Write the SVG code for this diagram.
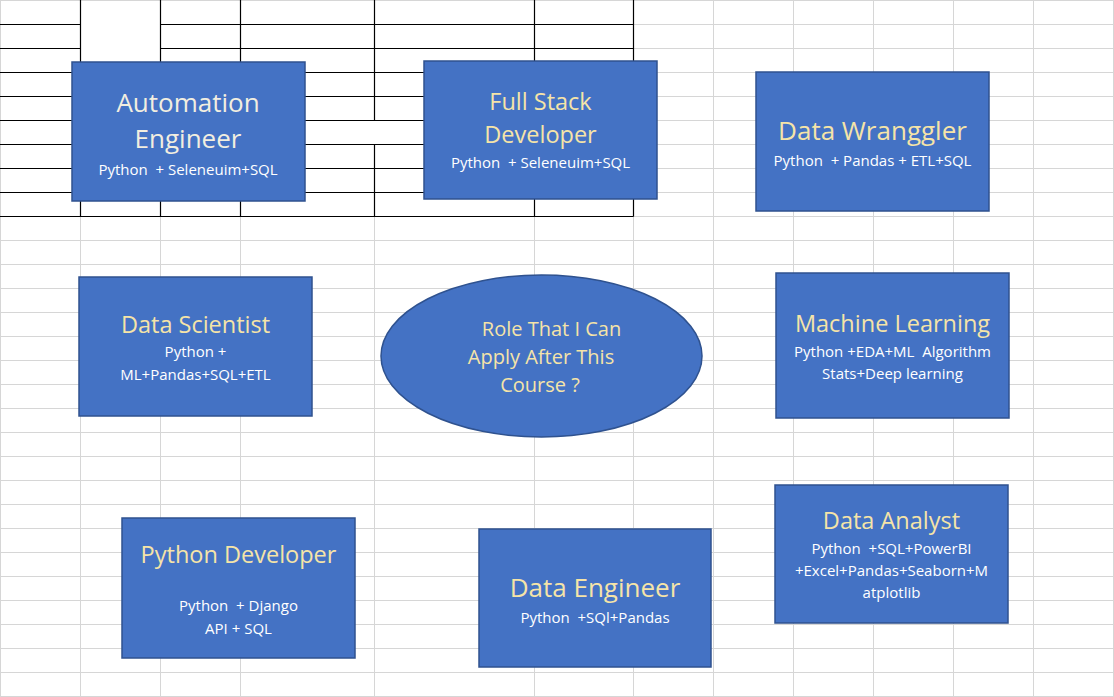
<svg xmlns="http://www.w3.org/2000/svg" width="1114" height="697" viewBox="0 0 1114 697">
<style>
.grid{stroke:#d6d6d6;stroke-width:1;fill:none}
.border{stroke:#000;stroke-width:1.2;fill:none}
.box{fill:#4472c4;stroke:#2f528f;stroke-width:1.5}
.title{font-family:"Open Sans","Noto Sans",sans-serif;font-size:23.5px;fill:#f5e4a8;text-anchor:middle}
.title.big{font-size:26px}
.title.w{fill:#f2eee0}
.sub{font-family:"Open Sans","Noto Sans",sans-serif;font-size:15px;fill:#ffffff;text-anchor:middle}
.oval{font-family:"Open Sans","Noto Sans",sans-serif;font-size:20px;fill:#f5e4a8;text-anchor:middle}
</style>
<rect width="1114" height="697" fill="#ffffff"/>
<g id="sheet">
<path class="grid" d="M0.5,0V697M0,0.5H1114
M0,24.5H1114M0,48.5H1114M0,72.5H1114M0,96.5H1114M0,120.5H1114M0,144.5H1114M0,168.5H1114M0,192.5H1114M0,216.5H1114
M0,240.5H1114M0,264.5H1114M0,288.5H1114M0,312.5H1114M0,336.5H1114M0,360.5H1114M0,384.5H1114M0,408.5H1114M0,432.5H1114
M0,456.5H1114M0,480.5H1114M0,504.5H1114M0,528.5H1114M0,552.5H1114M0,576.5H1114M0,600.5H1114M0,624.5H1114M0,648.5H1114
M0,672.5H1114M0,696.5H1114
M80.5,0V697M160.5,0V697M240.5,0V697M374.5,0V697M534.5,0V697M633.5,0V697M713.5,0V697M793.5,0V697M873.5,0V697M953.5,0V697M1033.5,0V697M1113.5,0V697"/>
<rect x="1" y="1" width="632" height="215" fill="#ffffff"/>
<path class="border" d="M0,24.5H80.5M160.5,24.5H633.5M0,48.5H80.5M160.5,48.5H633.5
M0,72.5H633.5M0,96.5H633.5M0,120.5H633.5M0,144.5H633.5M0,168.5H633.5M0,192.5H633.5M0,216.5H633.5
M80.5,0V216.5M160.5,0V216.5M240.5,0V216.5M534.5,0V216.5M633.5,0V216.5
M374.5,0V120.5M374.5,144.5V216.5"/>
</g>
<g id="connectors"/>
<g id="automation-engineer">
<rect class="box" x="72" y="62" width="233" height="139"/>
<text class="title big w" x="188" y="112">Automation</text>
<text class="title big w" x="188" y="148">Engineer</text>
<text class="sub" x="188" y="175" xml:space="preserve">Python  + Seleneuim+SQL</text>
</g>
<g id="full-stack-developer">
<rect class="box" x="424" y="61" width="233" height="138"/>
<text class="title" x="540.5" y="110">Full Stack</text>
<text class="title" x="540.5" y="143">Developer</text>
<text class="sub" x="540.5" y="168" xml:space="preserve">Python  + Seleneuim+SQL</text>
</g>
<g id="data-wranggler">
<rect class="box" x="756" y="72" width="233" height="139"/>
<text class="title big" x="872.5" y="140">Data Wranggler</text>
<text class="sub" x="872.5" y="166" xml:space="preserve">Python  + Pandas + ETL+SQL</text>
</g>
<g id="data-scientist">
<rect class="box" x="79" y="277" width="233" height="139"/>
<text class="title" x="195.5" y="333">Data Scientist</text>
<text class="sub" x="195.5" y="357">Python +</text>
<text class="sub" x="195.5" y="380">ML+Pandas+SQL+ETL</text>
</g>
<g id="role-question">
<ellipse cx="541.5" cy="356" rx="160.5" ry="81" fill="#4472c4" stroke="#2f528f" stroke-width="1.5"/>
<text class="oval" x="551.5" y="336">Role That I Can</text>
<text class="oval" x="541" y="364">Apply After This</text>
<text class="oval" x="540" y="392">Course ?</text>
</g>
<g id="machine-learning">
<rect class="box" x="776" y="273" width="233" height="145"/>
<text class="title" x="892.5" y="332">Machine Learning</text>
<text class="sub" x="892.5" y="357" xml:space="preserve">Python +EDA+ML  Algorithm</text>
<text class="sub" x="892.5" y="379">Stats+Deep learning</text>
</g>
<g id="python-developer">
<rect class="box" x="122" y="518" width="233" height="140"/>
<text class="title" x="238.5" y="563">Python Developer</text>
<text class="sub" x="238.5" y="611" xml:space="preserve">Python  + Django</text>
<text class="sub" x="238.5" y="634">API + SQL</text>
</g>
<g id="data-engineer">
<rect class="box" x="479" y="529" width="232" height="138"/>
<text class="title big" x="595" y="597">Data Engineer</text>
<text class="sub" x="595" y="623" xml:space="preserve">Python  +SQl+Pandas</text>
</g>
<g id="data-analyst">
<rect class="box" x="775" y="485" width="233" height="138"/>
<text class="title" x="891.5" y="529">Data Analyst</text>
<text class="sub" x="891.5" y="554" xml:space="preserve">Python  +SQL+PowerBI</text>
<text class="sub" x="891.5" y="576">+Excel+Pandas+Seaborn+M</text>
<text class="sub" x="891.5" y="598">atplotlib</text>
</g>
</svg>
